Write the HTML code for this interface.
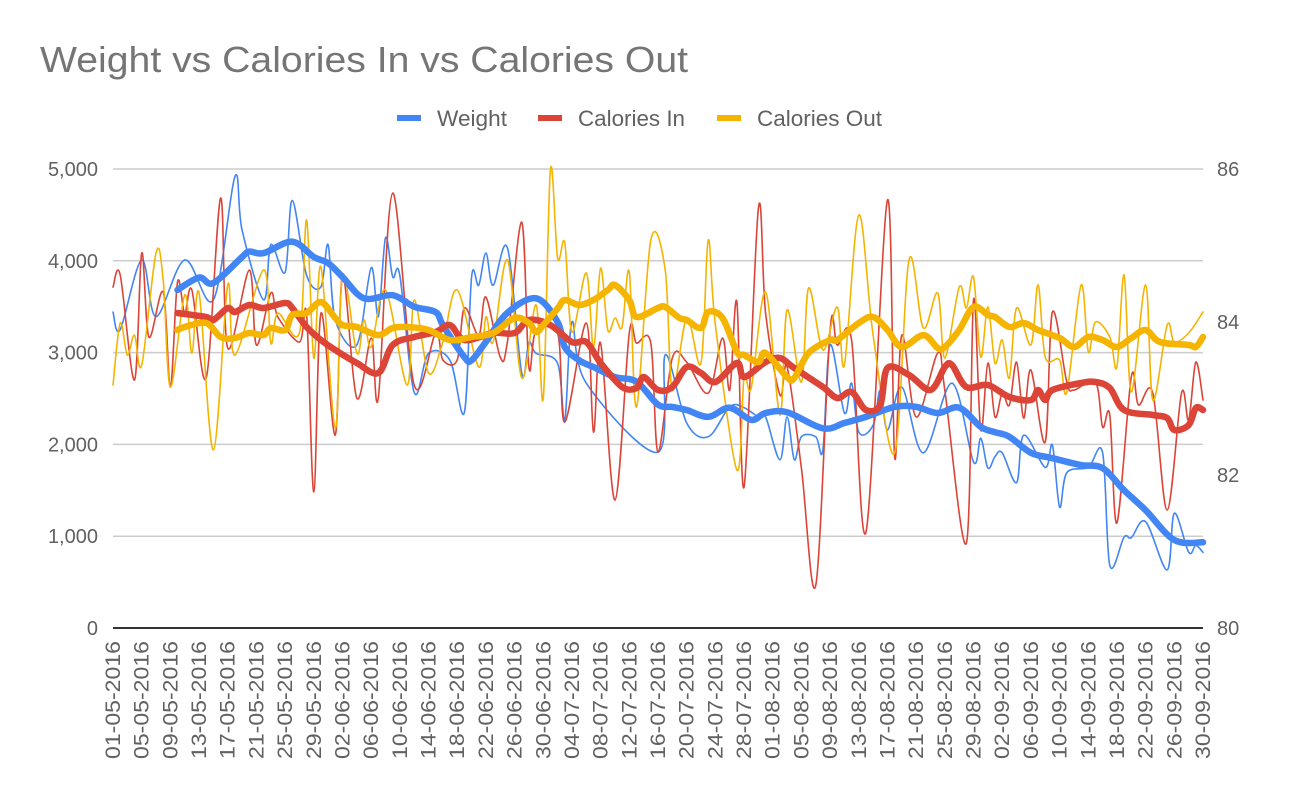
<!DOCTYPE html>
<html><head><meta charset="utf-8"><style>
html,body{margin:0;padding:0;background:#fff;}
svg{display:block;font-family:"Liberation Sans",Arial,sans-serif;}
</style></head><body>
<svg id="chart" width="1297" height="801" viewBox="0 0 1297 801" xmlns="http://www.w3.org/2000/svg">
<text x="40" y="72" font-size="36" fill="#757575" textLength="648" lengthAdjust="spacingAndGlyphs">Weight vs Calories In vs Calories Out</text>
<g>
<g><rect x="397" y="115" width="24" height="6" fill="#4285f4"/><text x="437" y="126" font-size="22" fill="#616161" textLength="70" lengthAdjust="spacingAndGlyphs">Weight</text></g>
<g><rect x="538" y="115" width="24" height="6" fill="#db4437"/><text x="578" y="126" font-size="22" fill="#616161" textLength="107" lengthAdjust="spacingAndGlyphs">Calories In</text></g>
<g><rect x="717" y="115" width="24" height="6" fill="#f4b400"/><text x="757" y="126" font-size="22" fill="#616161" textLength="125" lengthAdjust="spacingAndGlyphs">Calories Out</text></g>
</g>
<g id="grid"></g>
<g id="yleft"></g>
<g id="yright"></g>
<g id="xaxis"></g>
<g id="series"></g>
</svg>
<script>
const leftTicks = [0,1000,2000,3000,4000,5000];
const rightTicks = [80,82,84,86];
const startDate = [2016,4,1];
const dayCount = 153;

const weightDays = [0,1,4,6,10,14,17,18,21,22,24,25,27,29,30,31,34,36,37,38,39,40,42,44,47,49,50,51,52,53,55,57,58,59,62,63,64,66,76,77,80,83,86,88,90,91,93,94,95,96,98,99,100,102,103,104,106,107,108,110,113,117,120,121,122,123,124,126,127,130,131,132,133,136,138,139,141,142,144,147,148,150,151,152];
const weightValues = [84.13,83.90,84.81,84.07,84.81,84.29,85.90,85.20,84.29,85.01,84.65,85.59,84.61,84.46,85.01,84.03,83.70,84.71,84.07,85.10,84.59,84.61,83.08,83.59,83.50,82.82,84.59,84.48,84.90,84.48,84.97,83.33,83.73,83.59,83.46,82.72,84.00,83.20,82.30,83.57,82.68,82.50,82.89,82.88,82.76,82.76,82.20,82.76,82.20,82.50,82.50,82.33,83.70,82.81,83.20,82.56,82.65,83.11,82.59,83.15,82.29,83.20,82.17,82.48,82.09,82.24,82.29,81.90,82.52,82.10,82.39,81.58,82.03,82.10,82.29,80.82,81.19,81.18,81.39,80.76,81.50,80.99,81.08,80.99];

const calInDays = [0,1,3,4,5,7,8,9,10,11,13,15,16,19,20,22,23,26,27,28,29,31,32,34,36,37,39,42,45,46,48,49,51,52,54,55,57,58,59,62,63,66,67,68,70,72,73,75,76,78,80,83,85,86,87,88,90,91,93,94,96,98,100,101,103,105,108,109,110,112,115,116,119,120,121,122,123,124,125,126,127,128,130,131,133,134,137,138,139,140,142,143,145,147,149,150,151,152];
const calInValues = [3714,3845,2701,4084,3169,3659,2625,3768,3430,3681,2723,4683,3049,3899,3082,3648,3387,3114,3409,1481,3430,2102,3844,2505,3158,2505,4737,2646,3213,2919,2919,3485,3191,3605,2951,3115,4421,2842,3245,3213,2243,3322,2134,3104,1394,3213,3104,3104,1917,2941,2897,2559,3158,2592,3551,1536,4574,3430,2540,2843,1743,468,3246,3082,3136,1046,4662,1863,3191,2298,2995,2592,926,3572,2157,2886,2298,2559,2429,2897,2287,2810,2026,3442,2679,2592,2679,2189,2320,1144,2734,2429,2559,1285,2559,2265,2897,2483];

const calOutDays = [0,1,2,3,4,6,7,8,10,11,12,14,16,17,21,22,23,26,27,28,29,31,32,34,35,36,38,41,42,44,46,48,51,52,53,55,57,59,60,61,62,63,64,66,67,68,69,70,71,72,73,75,77,78,80,82,83,84,87,88,89,91,93,94,96,97,99,101,102,104,106,109,111,113,115,116,118,119,120,121,122,123,124,125,126,128,129,130,132,133,135,136,137,139,140,141,142,144,145,147,148,150,152];
const calOutValues = [2647,3322,2973,3191,2864,4084,3791,2625,3627,2995,3649,1939,3736,2973,3900,3104,3430,3213,4444,2941,3932,2178,3845,2995,3355,3061,3682,2647,3573,2778,3115,3682,2843,3388,3115,4009,2723,3519,2505,4989,4030,4194,3224,3867,3061,3921,3246,3377,3279,3878,2407,4226,3900,2592,3377,2886,4226,3300,1721,2734,2614,3660,2320,3464,2679,3704,3028,3497,2865,4499,3191,1906,4009,3268,3649,2941,3714,3486,3823,2952,3497,2887,3137,2723,3486,3083,3736,2952,2919,2571,3736,3006,3333,3170,2843,3845,2571,3736,2483,3300,3115,3213,3442];

const weightTrendDays = [9,12,14,18,19,21,25,28,30,32,35,39,42,45,46,49,50,52,55,59,62,63,65,67,70,73,76,78,80,83,86,89,91,94,99,102,105,109,112,115,118,121,123,125,128,131,135,138,141,144,148,152];
const weightTrendValues = [84.42,84.58,84.51,84.85,84.92,84.90,85.05,84.85,84.77,84.59,84.31,84.35,84.20,84.13,83.96,83.54,83.50,83.74,84.12,84.31,84.00,83.67,83.50,83.41,83.28,83.22,82.92,82.89,82.85,82.76,82.88,82.72,82.81,82.82,82.61,82.68,82.76,82.89,82.89,82.81,82.88,82.63,82.56,82.50,82.29,82.22,82.13,82.09,81.80,81.54,81.15,81.12];

const calInTrendDays = [9,13,14,16,17,19,21,24,25,27,29,31,34,37,39,42,45,47,49,53,56,58,61,64,66,68,71,73,74,76,78,80,82,84,87,88,91,93,95,99,101,103,105,107,108,111,114,116,117,119,122,125,128,129,130,131,135,137,139,141,145,147,148,150,151,152];
const calInTrendValues = [3431,3388,3355,3486,3442,3518,3486,3540,3486,3279,3137,3028,2887,2778,3083,3170,3224,3300,3137,3213,3213,3355,3300,3115,3115,2887,2625,2614,2734,2592,2625,2843,2778,2680,2887,2734,2897,2941,2832,2625,2505,2571,2375,2429,2832,2756,2593,2843,2865,2625,2647,2516,2484,2593,2484,2593,2669,2680,2614,2375,2320,2288,2157,2211,2397,2375];

const calOutTrendDays = [9,10,13,15,17,19,21,22,24,25,27,29,31,32,34,37,39,41,44,47,50,53,56,58,59,60,62,63,65,67,69,70,72,73,76,77,79,80,82,83,85,87,88,90,91,94,95,97,100,101,104,106,108,110,113,115,116,118,120,122,123,125,127,129,132,134,136,138,140,142,144,146,150,151,152];
const calOutTrendValues = [3246,3279,3322,3170,3159,3213,3191,3268,3246,3410,3431,3551,3377,3300,3279,3191,3268,3279,3246,3137,3170,3213,3377,3322,3224,3300,3480,3573,3519,3573,3682,3736,3573,3388,3486,3497,3377,3355,3268,3442,3377,3006,2974,2897,2996,2734,2723,2996,3137,3137,3322,3388,3246,3061,3191,3050,3061,3246,3497,3410,3388,3279,3322,3246,3159,3061,3170,3137,3061,3159,3246,3115,3083,3061,3170];

const X0=113, X1=1203, YB=628, YT=169;
const NS='http://www.w3.org/2000/svg';
function xs(d){return X0+d*(X1-X0)/(dayCount-1);}
function yl(v){return YB-(v-leftTicks[0])*(YB-YT)/(leftTicks[leftTicks.length-1]-leftTicks[0]);}
function yr(v){return YB-(v-rightTicks[0])*(YB-YT)/(rightTicks[rightTicks.length-1]-rightTicks[0]);}
function mk(tag,attrs,parent){const e=document.createElementNS(NS,tag);for(const k in attrs)e.setAttribute(k,attrs[k]);parent.appendChild(e);return e;}
const grid=document.getElementById('grid'),yL=document.getElementById('yleft'),yR=document.getElementById('yright'),xa=document.getElementById('xaxis'),ser=document.getElementById('series');

leftTicks.forEach(function(t){
  if(t!==leftTicks[0]){const g=mk('line',{x1:X0,x2:X1,y1:yl(t),y2:yl(t),stroke:'#cccccc','stroke-width':1.5},grid);
  
  }
  const tx=mk('text',{x:98,y:yl(t)+7,'text-anchor':'end','font-size':20,fill:'#616161'},yL);
  tx.textContent=t.toLocaleString('en-US');
  
  
});
rightTicks.forEach(function(t){
  const tx=mk('text',{x:1217,y:yr(t)+7,'font-size':20,fill:'#616161'},yR);
  tx.textContent=String(t);
  
  
});
const base=mk('line',{x1:X0,x2:X1,y1:YB,y2:YB,stroke:'#333333','stroke-width':2},xa);


function pad(n){return (n<10?'0':'')+n;}
for(let d=0;d<dayCount;d+=4){
  const dt=new Date(startDate[0],startDate[1],startDate[2]+d);
  const lab=pad(dt.getDate())+'-'+pad(dt.getMonth()+1)+'-'+dt.getFullYear();
  const x=xs(d)+7;
  const tx=mk('text',{x:0,y:0,transform:'translate('+x+',641) rotate(-90)','text-anchor':'end','font-size':21,fill:'#616161',textLength:118,lengthAdjust:'spacingAndGlyphs'},xa);
  tx.textContent=lab;
  
  
}
function pathD(days,vals,yf){
  const p=days.map(function(d,i){return [xs(d),yf(vals[i])];});
  let s='M'+p[0][0].toFixed(1)+','+p[0][1].toFixed(1);
  for(let i=0;i<p.length-1;i++){
    const a=p[Math.max(0,i-1)],b=p[i],c=p[i+1],e=p[Math.min(p.length-1,i+2)];
    const c1=[b[0]+(c[0]-a[0])/6,b[1]+(c[1]-a[1])/6],c2=[c[0]-(e[0]-b[0])/6,c[1]-(e[1]-b[1])/6];
    s+='C'+c1[0].toFixed(1)+','+c1[1].toFixed(1)+' '+c2[0].toFixed(1)+','+c2[1].toFixed(1)+' '+c[0].toFixed(1)+','+c[1].toFixed(1);
  }
  return s;
}
function line(days,vals,yf,color,w,name){
  const p=mk('path',{d:pathD(days,vals,yf),fill:'none',stroke:color,'stroke-width':w,'stroke-linejoin':'round','stroke-linecap':'round'},ser);
  
  
}
line(weightDays,weightValues,yr,'#4285f4',1.6,'weight-line');
line(calInDays,calInValues,yl,'#db4437',1.6,'calories-in-line');
line(calOutDays,calOutValues,yl,'#f4b400',1.6,'calories-out-line');
line(weightTrendDays,weightTrendValues,yr,'#4285f4',6.5,'weight-trend-line');
line(calInTrendDays,calInTrendValues,yl,'#db4437',6.5,'calories-in-trend-line');
line(calOutTrendDays,calOutTrendValues,yl,'#f4b400',6.5,'calories-out-trend-line');
</script>
</body></html>
